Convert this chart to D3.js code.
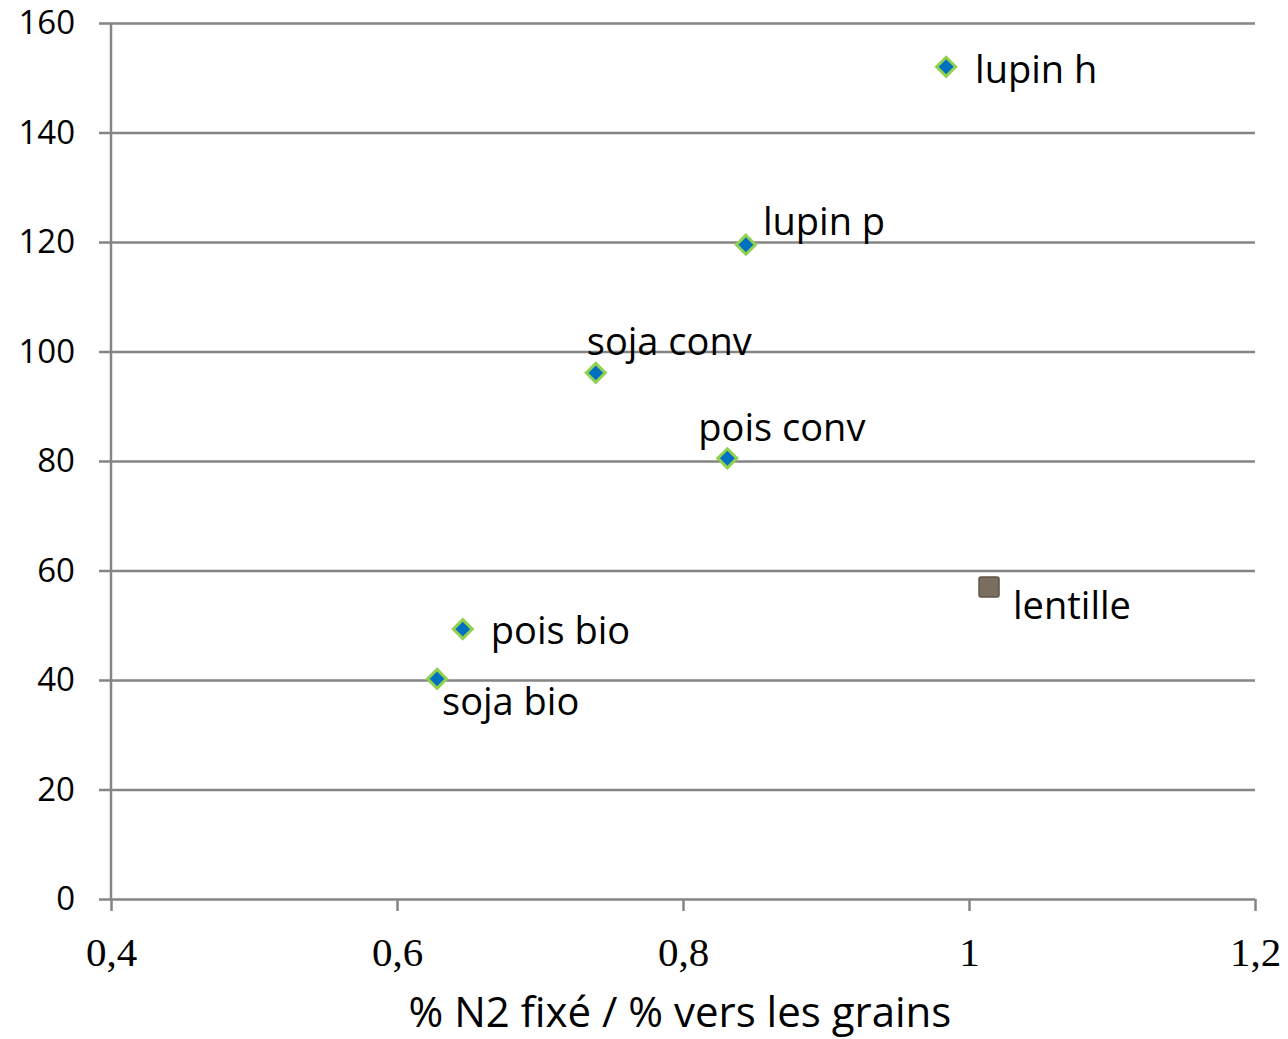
<!DOCTYPE html>
<html>
<head>
<meta charset="utf-8">
<script src="https://cdn.jsdelivr.net/npm/d3@7"></script>
<style>
  body { margin: 0; background: #fff; }
  svg { display: block; }
</style>
</head>
<body>
<svg width="1288" height="1039"></svg>
<script>
// data
var names = ["lupin h", "lupin p", "soja conv", "pois conv", "pois bio", "soja bio", "lentille"];
var xVals = [0.984, 0.844, 0.739, 0.831, 0.646, 0.628, 1.014];
var yVals = [152.0, 119.5, 96.1, 80.5, 49.3, 40.2, 57.0];
var series = ["diamond", "diamond", "diamond", "diamond", "diamond", "diamond", "square"];
var xTicks = [0.4, 0.6, 0.8, 1.0, 1.2];
var yTicks = [0, 20, 40, 60, 80, 100, 120, 140, 160];
var xTitle = "% N2 fixé / % vers les grains";

// label placement relative to each point
var labelDx = [29, 17, -9, -29, 28, 5, 24];
var labelDy = [3, -23, -31, -31, 2, 23, 19];

var svg = d3.select("svg");
var plotL = 111, plotR = 1255, plotT = 23, plotB = 899;

var scaleX = d3.scaleLinear().domain([0.4, 1.2]).range([plotL, plotR]);
var scaleY = d3.scaleLinear().domain([0, 160]).range([plotB, plotT]);

var sans = "'Open Sans', 'Noto Sans', sans-serif";
var grid = "#858585";

// horizontal gridlines + y axis
var yAxis = svg.append("g")
    .attr("transform", "translate(" + plotL + ",0)")
    .call(d3.axisLeft(scaleY).tickValues(yTicks).tickSize(12).tickPadding(24).tickFormat(d3.format("d")));
yAxis.select(".domain").attr("stroke", grid).attr("stroke-width", 2.5).attr("d", "M0," + plotT + "V" + plotB);
yAxis.selectAll(".tick line").attr("stroke", grid).attr("stroke-width", 2.5)
    .attr("x1", -12).attr("x2", plotR - plotL);
yAxis.selectAll(".tick text").attr("font-family", sans).attr("font-size", 33).attr("fill", "#000");

// x axis
var xAxis = svg.append("g")
    .attr("transform", "translate(0," + plotB + ")")
    .call(d3.axisBottom(scaleX).tickValues(xTicks).tickSize(12).tickPadding(26)
        .tickFormat(function(d) { return d === 1 ? "1" : d3.format(".1f")(d).replace(".", ","); }));
xAxis.select(".domain").remove();
xAxis.selectAll(".tick line").attr("stroke", grid).attr("stroke-width", 2.5);
xAxis.selectAll(".tick text").attr("font-family", "'Liberation Serif', 'DejaVu Serif', serif")
    .attr("font-size", 41).attr("fill", "#000");

svg.append("text")
    .attr("x", 680).attr("y", 1027)
    .attr("text-anchor", "middle")
    .attr("font-family", sans).attr("font-size", 42)
    .text(xTitle);

var pts = names.map(function(n, i) {
  return { name: n, x: xVals[i], y: yVals[i], kind: series[i], dx: labelDx[i], dy: labelDy[i] };
});

var marks = svg.append("g").selectAll("g.pt").data(pts).enter().append("g")
    .attr("class", "pt")
    .attr("transform", function(d) { return "translate(" + scaleX(d.x) + "," + scaleY(d.y) + ")"; });

marks.filter(function(d) { return d.kind === "diamond"; })
    .append("path")
    .attr("d", "M0,-9.5L9.5,0L0,9.5L-9.5,0Z")
    .attr("fill", "#0070C0")
    .attr("stroke", "#92D050")
    .attr("stroke-width", 3);

marks.filter(function(d) { return d.kind === "square"; })
    .append("rect")
    .attr("x", -10).attr("y", -10).attr("width", 20).attr("height", 20)
    .attr("rx", 2)
    .attr("fill", "#7A6E5E")
    .attr("stroke", "#5F5546")
    .attr("stroke-width", 1.5);

marks.append("text")
    .attr("x", function(d) { return d.dx; })
    .attr("y", function(d) { return d.dy; })
    .attr("dy", "0.35em")
    .attr("font-family", sans).attr("font-size", 38)
    .attr("fill", "#000")
    .text(function(d) { return d.name; });
</script>
</body>
</html>
